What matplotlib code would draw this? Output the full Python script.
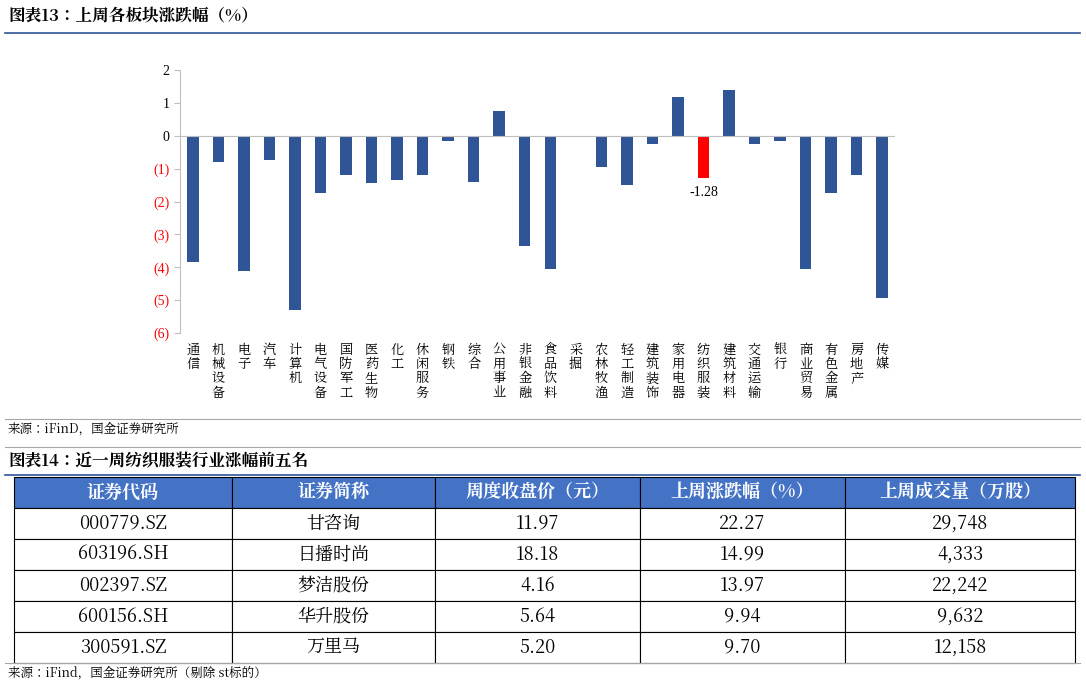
import matplotlib.pyplot as plt
from matplotlib import font_manager
from matplotlib.patches import Rectangle
from matplotlib.lines import Line2D

cjk = [f.name for f in font_manager.fontManager.ttflist if "CJK" in f.name]
cjk_name = "Noto Sans CJK SC" if "Noto Sans CJK SC" in cjk else (cjk[0] if cjk else "DejaVu Sans")
plt.rcParams["font.family"] = "sans-serif"
plt.rcParams["font.sans-serif"] = [cjk_name, "DejaVu Sans"]
plt.rcParams["axes.unicode_minus"] = False

# ---- data ----
sectors = ["通信", "机械设备", "电子", "汽车", "计算机", "电气设备", "国防军工", "医药生物",
           "化工", "休闲服务", "钢铁", "综合", "公用事业", "非银金融", "食品饮料", "采掘",
           "农林牧渔", "轻工制造", "建筑装饰", "家用电器", "纺织服装", "建筑材料", "交通运输",
           "银行", "商业贸易", "有色金属", "房地产", "传媒"]
changes = [-3.85, -0.80, -4.10, -0.75, -5.30, -1.75, -1.20, -1.45, -1.35, -1.20, -0.15, -1.40,
           0.75, -3.35, -4.05, 0.0, -0.95, -1.50, -0.25, 1.18, -1.28, 1.38, -0.25, -0.15,
           -4.05, -1.75, -1.20, -4.95]
highlight = "纺织服装"

y_ticks = [2, 1, 0, -1, -2, -3, -4, -5, -6]

table_header = ["证券代码", "证券简称", "周度收盘价（元）", "上周涨跌幅（%）", "上周成交量（万股）"]
codes = ["000779.SZ", "603196.SH", "002397.SZ", "600156.SH", "300591.SZ"]
names = ["甘咨询", "日播时尚", "梦洁股份", "华升股份", "万里马"]
close_prices = ["11.97", "18.18", "4.16", "5.64", "5.20"]
week_changes = ["22.27", "14.99", "13.97", "9.94", "9.70"]
volumes = ["29,748", "4,333", "22,242", "9,632", "12,158"]

W, H = 1086, 685
fig = plt.figure(figsize=(W / 100, H / 100), dpi=100)


def fx(px):
    return px / W


def fy(py):
    return 1 - py / H


# ---- top title ----
fig.text(fx(8), fy(17), "图表13：上周各板块涨跌幅（%）", fontsize=12, fontweight="bold",
         style="italic", va="center", ha="left")
fig.add_artist(Line2D([fx(5), fx(1080)], [fy(33), fy(33)], color="#2F5597", lw=1.2))

# ---- bar chart ----
ax = fig.add_axes([fx(180), fy(333), fx(715), (333 - 70) / H])
colors = ["#FF0000" if s == highlight else "#2F5597" for s in sectors]
x = list(range(len(sectors)))
ax.bar(x, changes, width=0.45, color=colors)
ax.set_xlim(-0.5, len(sectors) - 0.5)
ax.set_ylim(-6, 2)
ax.set_yticks(y_ticks)
ax.set_yticklabels([f"({abs(v)})" if v < 0 else str(v) for v in y_ticks], fontsize=10,
                   fontfamily="Liberation Serif")
for lab, v in zip(ax.get_yticklabels(), y_ticks):
    lab.set_color("#FF0000" if v < 0 else "black")
ax.axhline(0, color="#BFBFBF", lw=0.8)
for s in ["top", "right", "bottom"]:
    ax.spines[s].set_visible(False)
ax.spines["left"].set_color("#BFBFBF")
ax.tick_params(axis="y", length=4, color="#BFBFBF")
ax.set_xticks([])
for i, (s, v) in enumerate(zip(sectors, changes)):
    ax.text(i, -6.3, "\n".join(s), ha="center", va="top", fontsize=9.5, linespacing=1.05)
    if s == highlight:
        ax.text(i, v - 0.25, f"{v:.2f}", ha="center", va="top", fontsize=10,
                fontfamily="Liberation Serif")

# ---- source line 1 ----
fig.add_artist(Line2D([fx(5), fx(1080)], [fy(419), fy(419)], color="#A6A6A6", lw=0.8))
fig.text(fx(8), fy(429), "来源：iFinD，国金证券研究所", fontsize=9, va="center")
fig.add_artist(Line2D([fx(5), fx(1080)], [fy(447), fy(447)], color="#A6A6A6", lw=0.8))

# ---- table title ----
fig.text(fx(8), fy(462), "图表14：近一周纺织服装行业涨幅前五名", fontsize=12, fontweight="bold",
         style="italic", va="center")
fig.add_artist(Line2D([fx(5), fx(1080)], [fy(475), fy(475)], color="#2F5597", lw=1.2))

# ---- table ----
col_edges = [14, 232, 435, 640, 845, 1075]
row_top, row_h = 477, 31
rows = list(zip(codes, names, close_prices, week_changes, volumes))
for r in range(len(rows) + 1):
    top = row_top + r * row_h
    for c in range(5):
        x0, x1 = col_edges[c], col_edges[c + 1]
        header = r == 0
        fig.add_artist(Rectangle((fx(x0), fy(top + row_h)), fx(x1 - x0), row_h / H,
                                 facecolor="#4472C4" if header else "white",
                                 edgecolor="black", lw=0.8))
        txt = table_header[c] if header else rows[r - 1][c]
        fig.text(fx((x0 + x1) / 2), fy(top + row_h / 2), txt, ha="center", va="center",
                 fontsize=13, color="white" if header else "black",
                 fontweight="bold" if header else "normal")

fig.add_artist(Line2D([fx(5), fx(1080)], [fy(663), fy(663)], color="#A6A6A6", lw=0.8))
fig.text(fx(8), fy(673), "来源：iFind，国金证券研究所（剔除 st标的）", fontsize=9, va="center")

fig.savefig("out.png", dpi=100)
